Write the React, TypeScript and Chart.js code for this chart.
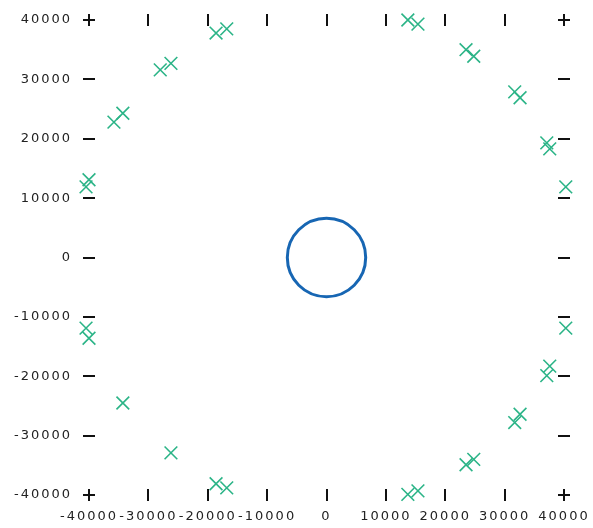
import { useEffect, useRef } from 'react';
import { Chart, registerables } from 'chart.js';

Chart.register(...registerables);

const tickValues = [-40000, -30000, -20000, -10000, 0, 10000, 20000, 30000, 40000];

const markerX = [
  -18600, -16800, -28000, -26200, -35800, -34300, -40500, -40000,
  -40500, -40000, -34300, -26200, -18600, -16800,
  13700, 15400, 23500, 24800, 31700, 32600, 37100, 37600, 40300,
  40300, 37600, 37100, 32600, 31700, 24800, 23500, 15400, 13700,
];
const markerY = [
  37800, 38500, 31600, 32700, 22800, 24300, 11900, 13100,
  -11900, -13600, -24500, -32900, -38100, -38800,
  40000, 39300, 35000, 33900, 27900, 26900, 19300, 18300, 11900,
  -11900, -18300, -19900, -26400, -27800, -34000, -34900, -39300, -39900,
];

const ringX = [0];
const ringY = [0];
const ringRadius = 6600;

const edgeTicks = {
  id: 'edgeTicks',
  beforeLayout(chart: any) {
    chart.ctx.letterSpacing = '2px';
  },
  beforeDraw(chart: any) {
    chart.ctx.letterSpacing = '2px';
  },
  afterDatasetsDraw(chart: any) {
    const { ctx, chartArea, scales } = chart;
    const { left, right, top, bottom } = chartArea;
    const xs = scales.x;
    const ys = scales.y;
    ctx.save();
    ctx.strokeStyle = '#111';
    ctx.lineWidth = 2;
    ctx.beginPath();
    xs.ticks.forEach((t: any) => {
      const px = Math.round(xs.getPixelForValue(t.value));
      ctx.moveTo(px, top - 6);
      ctx.lineTo(px, top + 6);
      ctx.moveTo(px, bottom - 6);
      ctx.lineTo(px, bottom + 6);
    });
    ys.ticks.forEach((t: any) => {
      const py = Math.round(ys.getPixelForValue(t.value));
      ctx.moveTo(left - 6, py);
      ctx.lineTo(left + 6, py);
      ctx.moveTo(right - 6, py);
      ctx.lineTo(right + 6, py);
    });
    ctx.stroke();
    ctx.restore();
  },
};

export default function App() {
  const ref = useRef<HTMLCanvasElement | null>(null);

  useEffect(() => {
    if (!ref.current) return;
    const font = { family: '"DejaVu Sans", Verdana, sans-serif', size: 13 };
    const chart = new Chart(ref.current, {
      type: 'scatter',
      data: {
        datasets: [
          {
            data: markerX.map((x, i) => ({ x, y: markerY[i] })),
            pointStyle: 'crossRot',
            pointRadius: 9,
            pointBorderWidth: 1.6,
            borderColor: '#2bb487',
            backgroundColor: '#2bb487',
            clip: false as any,
          },
          {
            data: ringX.map((x, i) => ({ x, y: ringY[i] })),
            pointStyle: 'circle',
            pointRadius: (c: any) => {
              const s = c.chart.scales.x;
              return Math.abs(s.getPixelForValue(ringRadius) - s.getPixelForValue(0));
            },
            pointBorderWidth: 3,
            borderColor: '#1766b3',
            backgroundColor: 'rgba(0,0,0,0)',
            clip: false as any,
          },
        ],
      },
      options: {
        animation: false,
        responsive: false,
        events: [],
        layout: { padding: { left: 0, right: 29, top: 20, bottom: 0 } },
        plugins: { legend: { display: false }, tooltip: { enabled: false } },
        scales: {
          x: {
            type: 'linear',
            min: -40000,
            max: 40000,
            afterBuildTicks: (s: any) => {
              s.ticks = tickValues.map((v) => ({ value: v }));
            },
            afterFit: (s: any) => {
              s.height = 33;
              s.paddingLeft = 0;
              s.paddingRight = 0;
            },
            grid: { display: false, drawTicks: false },
            border: { display: false },
            ticks: {
              autoSkip: false,
              maxRotation: 0,
              padding: 14,
              color: '#222',
              font,
              callback: (v: any) => String(v),
            },
          },
          y: {
            type: 'linear',
            min: -40000,
            max: 40000,
            afterBuildTicks: (s: any) => {
              s.ticks = tickValues.map((v) => ({ value: v }));
            },
            afterFit: (s: any) => {
              s.width = 89;
              s.paddingTop = 0;
              s.paddingBottom = 0;
            },
            grid: { display: false, drawTicks: false },
            border: { display: false },
            ticks: {
              autoSkip: false,
              padding: 17,
              color: '#222',
              font,
              callback: (v: any) => String(v),
            },
          },
        },
      },
      plugins: [edgeTicks],
    });
    return () => chart.destroy();
  }, []);

  return (
    <div style={{ position: 'absolute', left: 0, top: 0, width: 593, height: 528 }}>
      <canvas ref={ref} width={593} height={528} style={{ width: 593, height: 528 }} />
    </div>
  );
}
